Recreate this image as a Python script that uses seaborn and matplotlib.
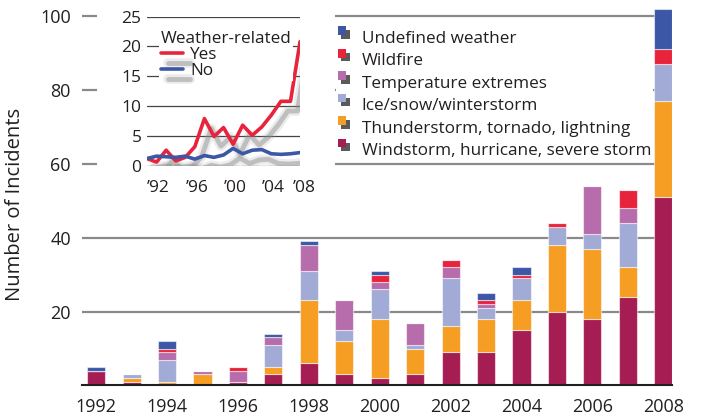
import numpy as np
import pandas as pd
import matplotlib
matplotlib.use('Agg')
import matplotlib.pyplot as plt
import matplotlib.patheffects as pe
import matplotlib.transforms as mtransforms
from matplotlib.patches import Rectangle
import seaborn as sns

#### Data
years = list(range(1992, 2009))

windstorm = [4, 1, 0, 0, 1, 3, 6, 3, 2, 3, 9, 9, 15, 20, 18, 24, 51]
thunderstorm = [0, 1, 1, 3, 0, 2, 17, 9, 16, 7, 7, 9, 8, 18, 19, 8, 26]
ice_snow = [0, 1, 6, 0, 0, 6, 8, 3, 8, 1, 13, 3, 6, 5, 4, 12, 10]
temperature = [0, 0, 2, 1, 3, 2, 7, 8, 2, 6, 3, 1, 0, 0, 13, 4, 0]
wildfire = [0, 0, 1, 0, 1, 0, 0, 0, 2, 0, 2, 1, 1, 1, 0, 5, 4]
undefined = [1, 0, 2, 0, 0, 1, 1, 0, 1, 0, 0, 2, 2, 0, 0, 0, 11]

categories = ['Undefined weather', 'Wildfire', 'Temperature extremes',
              'Ice/snow/winterstorm', 'Thunderstorm, tornado, lightning',
              'Windstorm, hurricane, severe storm']
cat_colors = ['#3b57a6', '#e8243d', '#b76dab', '#a1abd5', '#f59e23', '#a51d53']

# inset: weather-related yes / no
weather_yes = [1.2, 0.6, 2.6, 0.8, 1.4, 3.2, 7.9, 4.9, 6.4, 3.6, 6.8, 5.1, 6.5, 8.5, 10.8, 10.8, 20.8]
weather_no = [1.2, 1.6, 1.5, 1.4, 1.6, 1.1, 1.7, 1.4, 1.8, 2.9, 2.0, 2.6, 2.7, 2.0, 1.9, 2.0, 2.2]
inset_ticks = [1992, 1996, 2000, 2004, 2008]
inset_ticklabels = ['\u201992', '\u201996', '\u201900', '\u201904', '\u201908']

#### Long table for seaborn
series = [undefined, wildfire, temperature, ice_snow, thunderstorm, windstorm]
df = pd.concat([pd.DataFrame({'year': years, 'count': vals, 'category': name})
                for name, vals in zip(categories, series)], ignore_index=True)

sns.set_theme(style='white')
plt.rcParams['font.family'] = ['Open Sans', 'DejaVu Sans']
text_col = '#231f20'

fig = plt.figure(figsize=(7.11, 4.18), dpi=100)
ax = fig.add_axes([0.1153, 0.0778, 0.83, 0.922])

sns.histplot(data=df, x='year', weights='count', hue='category',
             hue_order=categories, palette=cat_colors, multiple='stack',
             discrete=True, shrink=0.51, alpha=1, linewidth=0.8,
             edgecolor=(1, 1, 1, 0.55), legend=False, ax=ax)

ax.set_xlim(1991.6, 2008.25)
ax.set_ylim(0, 104.3)
ax.set_yticks([20, 40, 60, 80, 100])
ax.set_xticks(years[::2])
ax.grid(axis='y', color='#8a8a8a', lw=1.6)
ax.set_axisbelow(True)
for s in ['left', 'right', 'top']:
    ax.spines[s].set_visible(False)
ax.spines['bottom'].set_color(text_col)
ax.spines['bottom'].set_linewidth(1.5)
ax.tick_params(axis='both', length=0, labelsize=13, colors=text_col)
ax.tick_params(axis='x', pad=9)
ax.tick_params(axis='y', pad=8)
ax.set_xlabel('')
ax.set_ylabel('Number of Incidents', fontsize=14.5, color=text_col)
ax.yaxis.set_label_coords(-0.097, 0.47)


# legend handle: coloured square with a grey shadow square
class ShadowSquare:
    def __init__(self, color):
        self.color = color

    def legend_artist(self, legend, orig_handle, fontsize, handlebox):
        x0, y0 = handlebox.xdescent, handlebox.ydescent
        s = 0.5 * fontsize
        top = handlebox.height + 0.25 * fontsize
        shadow = Rectangle((x0 + 0.4 * s, top - 1.45 * s), s, s,
                           facecolor='#5a5a5a', edgecolor='none',
                           transform=handlebox.get_transform())
        sq = Rectangle((x0, top - s), s, s, facecolor=self.color,
                       edgecolor='none', transform=handlebox.get_transform())
        handlebox.add_artist(shadow)
        handlebox.add_artist(sq)
        return sq


handles = [Rectangle((0, 0), 1, 1, color=c) for c in cat_colors]
leg = ax.legend(handles, categories, loc='upper left',
                bbox_to_anchor=(336 / 711, 1 - 29 / 418),
                bbox_transform=fig.transFigure, fontsize=12.3,
                handler_map={h: ShadowSquare(c) for h, c in zip(handles, cat_colors)},
                handlelength=0.8, handletextpad=0.6, labelspacing=0.38,
                borderpad=0.1, borderaxespad=0, frameon=True, fancybox=False)
leg.get_frame().set_facecolor('white')
leg.get_frame().set_edgecolor('none')
leg.get_frame().set_alpha(1)
for t in leg.get_texts():
    t.set_color(text_col)

# white mask behind the inset
fig.add_artist(Rectangle((97 / 711, 1 - 200 / 418), 238 / 711, 200 / 418,
                         transform=fig.transFigure, facecolor='white',
                         edgecolor='none', zorder=2))

#### Inset line chart
ins = fig.add_axes([0.2068, 0.6036, 0.2152, 0.3565], zorder=3)
shadow = [pe.SimpleLineShadow(offset=(5, -7), shadow_color='#a0a0a0', alpha=0.2, linewidth=7),
          pe.SimpleLineShadow(offset=(5, -7), shadow_color='#8a8a8a', alpha=0.45, linewidth=3.5),
          pe.Normal()]
sns.lineplot(x=years, y=weather_yes, color='#e8243d', lw=2.6, ax=ins,
             label='Yes', path_effects=shadow)
sns.lineplot(x=years, y=weather_no, color='#3b57a6', lw=2.6, ax=ins,
             label='No', path_effects=shadow)
ins.set_xlim(1992, 2008)
ins.set_ylim(0, 25)
ins.set_yticks([0, 5, 10, 15, 20, 25])
ins.set_xticks(inset_ticks)
ins.set_xticklabels(inset_ticklabels)
ins.grid(axis='y', color='#444444', lw=0.9)
ins.set_axisbelow(True)
for s in ins.spines.values():
    s.set_visible(False)
ins.tick_params(axis='both', length=0, labelsize=12.5, colors=text_col)
ins.tick_params(axis='x', pad=10)
ins.tick_params(axis='y', pad=4)
# year labels sit to the right of their tick, the last one pulled back inside
xlabels = ins.get_xticklabels()
for lab in xlabels:
    lab.set_ha('left')
xlabels[-1].set_transform(xlabels[-1].get_transform() +
                          mtransforms.ScaledTranslation(-0.07, 0, fig.dpi_scale_trans))

ileg = ins.legend(loc='upper left', bbox_to_anchor=(0.08, 0.915), title='Weather-related',
                  fontsize=12.3, title_fontsize=12.3, handlelength=1.3,
                  handletextpad=0.4, labelspacing=0.0, borderpad=0.1,
                  borderaxespad=0, frameon=True, fancybox=False, alignment='left')
ileg.get_frame().set_facecolor('white')
ileg.get_frame().set_edgecolor('none')
ileg.get_frame().set_alpha(1)
ileg.get_title().set_color(text_col)
for t in ileg.get_texts():
    t.set_color(text_col)

fig.savefig('out.png', dpi=100)
